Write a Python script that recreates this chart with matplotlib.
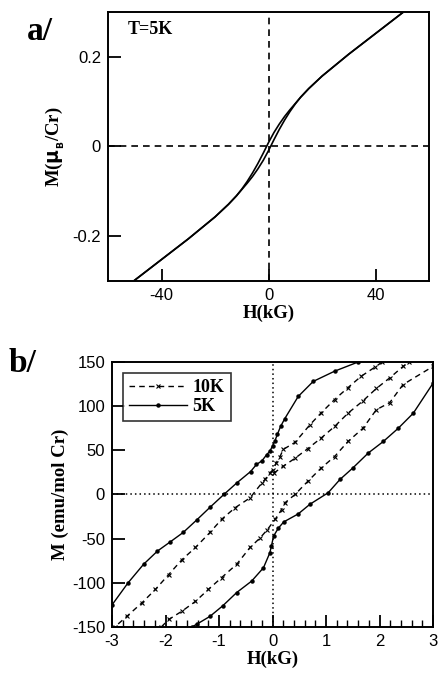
import matplotlib
matplotlib.use("Agg")
import matplotlib.pyplot as plt
from matplotlib.ticker import MultipleLocator

# ===== Panel a: T = 5K, large field loop =====
# descending branch (field from +50 to -50 kG)
h_a_down = [50, 40, 30, 20, 15, 12, 10, 8, 6, 4, 2, 0, -2, -4, -6, -8, -10,
            -12, -15, -20, -30, -40, -50]
m_a_down = [0.298, 0.252, 0.206, 0.157, 0.129, 0.110, 0.096, 0.082, 0.067,
            0.050, 0.031, 0.009, -0.015, -0.038, -0.059, -0.078, -0.095,
            -0.110, -0.129, -0.157, -0.206, -0.252, -0.298]
# ascending branch (field from -50 to +50 kG)
h_a_up = [-50, -40, -30, -20, -15, -12, -10, -8, -6, -4, -2, 0, 2, 4, 6, 8,
          10, 12, 15, 20, 30, 40, 50]
m_a_up = [-0.298, -0.252, -0.206, -0.157, -0.129, -0.110, -0.096, -0.082,
          -0.067, -0.050, -0.031, -0.009, 0.015, 0.038, 0.059, 0.078, 0.095,
          0.110, 0.129, 0.157, 0.206, 0.252, 0.298]

# ===== Panel b: low field loops =====
h_5k_down = [1.60, 1.16, 0.76, 0.48, 0.23, 0.15, 0.09, 0.04, 0.0, -0.05, -0.11,
             -0.20, -0.30, -0.41, -0.67, -0.91, -1.16, -1.42, -1.67, -1.92,
             -2.15, -2.41, -2.70, -3.0]
m_5k_down = [150, 139.6, 128, 111, 86, 77, 68, 60, 55, 49, 45,
             38, 34, 26, 13, 0, -14, -29, -43, -54,
             -64, -79, -100, -125]
h_5k_up = [-1.51, -1.42, -1.17, -0.93, -0.67, -0.39, -0.17, -0.05, -0.02, 0.02,
           0.11, 0.21, 0.48, 0.70, 1.04, 1.26, 1.50, 1.79, 2.07, 2.35, 2.63, 3.0]
m_5k_up = [-150, -147, -138, -126, -111, -98, -83, -66, -58, -47,
           -38, -31, -22, -11, 2, 17, 30, 47, 60, 75, 92, 126]

h_10k_down = [2.05, 1.91, 1.66, 1.41, 1.16, 0.91, 0.70, 0.42, 0.20, 0.14, 0.07,
              0.01, -0.05, -0.14, -0.20, -0.42, -0.70, -0.95, -1.17, -1.44,
              -1.69, -1.94, -2.19, -2.44, -2.72, -2.95]
m_10k_down = [150, 144, 134, 121, 107.5, 92.5, 79, 59, 51, 43, 36,
              28, 24.5, 17, 13, -3.8, -15, -28, -43, -60,
              -73.6, -90.6, -107.5, -122.6, -137.8, -150]
h_10k_up = [-2.08, -1.94, -1.69, -1.44, -1.20, -0.95, -0.67, -0.42, -0.23, -0.10,
            0.05, 0.17, 0.23, 0.42, 0.66, 0.91, 1.16, 1.41, 1.69, 1.94, 2.19,
            2.44, 3.0]
m_10k_up = [-150, -141.5, -132, -121, -107.5, -94, -79, -60, -49, -40,
            -28, -17, -9.5, 0, 15, 30, 43, 60, 75, 96, 104, 124.5, 145]
h_10k_init = [0.02, 0.20, 0.42, 0.66, 0.91, 1.16, 1.41, 1.69, 1.94, 2.19, 2.44, 2.55]
m_10k_init = [24, 32, 41, 52, 64, 77, 92, 106, 120, 132, 145, 150]

serif = "Liberation Serif"
sans = "Liberation Sans"
plt.rcParams["font.family"] = sans
plt.rcParams["axes.linewidth"] = 1.4
plt.rcParams["axes.unicode_minus"] = False

fig = plt.figure(figsize=(4.41, 6.76), dpi=100)

# ---------- panel a ----------
ax1 = fig.add_axes([0.245, 0.5843, 0.728, 0.398])
ax1.plot(h_a_down, m_a_down, color="black", lw=1.2)
ax1.plot(h_a_up, m_a_up, color="black", lw=1.2)
ax1.axhline(0, color="black", ls=(0, (4, 3)), lw=1.2)
ax1.axvline(0, color="black", ls=(0, (4, 3)), lw=1.2)
ax1.set_xlim(-60, 60)
ax1.set_ylim(-0.3, 0.3)
ax1.set_xticks([-40, 0, 40])
ax1.set_yticks([-0.2, 0, 0.2])
ax1.set_yticklabels(["-0.2", "0", "0.2"])
ax1.set_xticklabels(["-40", "0", "40"])
ax1.tick_params(direction="in", length=9, width=1.3, labelsize=12, pad=5)
ax1.set_xlabel("H(kG)", family=serif, weight="bold", fontsize=13.5, labelpad=1)
ax1.set_ylabel(r"M($\mathbf{\mu_{_B}}$/Cr)", family=serif, weight="bold",
               fontsize=13.5, labelpad=4)
ax1.text(0.06, 0.965, "T=5K", transform=ax1.transAxes, family=serif,
         weight="bold", fontsize=13, va="top", ha="left")
fig.text(0.06, 0.976, "a/", family=serif, weight="bold", fontsize=24, va="top")

# ---------- panel b ----------
ax2 = fig.add_axes([0.254, 0.0725, 0.728, 0.392])
ax2.plot(h_10k_down, m_10k_down, color="black", lw=1.0, ls=(0, (4, 3)),
         marker="x", ms=2.5, mew=0.8, label="10K")
ax2.plot(h_10k_up, m_10k_up, color="black", lw=1.0, ls=(0, (4, 3)),
         marker="x", ms=2.5, mew=0.8)
ax2.plot(h_10k_init, m_10k_init, color="black", lw=1.0, ls=(0, (4, 3)),
         marker="x", ms=2.5, mew=0.8)
ax2.plot(h_5k_down, m_5k_down, color="black", lw=1.0, marker="o", ms=2.2,
         label="5K")
ax2.plot(h_5k_up, m_5k_up, color="black", lw=1.0, marker="o", ms=2.2)
ax2.axhline(0, color="black", ls=(0, (1, 2)), lw=1.1)
ax2.axvline(0, color="black", ls=(0, (1, 2)), lw=1.1)
ax2.set_xlim(-3, 3)
ax2.set_ylim(-150, 150)
ax2.xaxis.set_major_locator(MultipleLocator(1))
ax2.xaxis.set_minor_locator(MultipleLocator(0.2))
ax2.yaxis.set_major_locator(MultipleLocator(50))
ax2.tick_params(which="major", direction="in", length=9, width=1.3,
                labelsize=12, pad=5)
ax2.tick_params(which="minor", direction="in", length=5, width=1.0)
ax2.set_xlabel("H(kG)", family=serif, weight="bold", fontsize=13.5, labelpad=1)
ax2.set_ylabel("M (emu/mol Cr)", family=serif, weight="bold", fontsize=13.5,
               labelpad=2)
leg = ax2.legend(loc="upper left", frameon=True, fancybox=False,
                 prop={"family": serif, "weight": "bold", "size": 13},
                 handlelength=3.2, handletextpad=0.3, borderpad=0.35,
                 labelspacing=0.1, borderaxespad=0.6)
leg.get_frame().set_edgecolor("black")
leg.get_frame().set_linewidth(1.2)
fig.text(0.02, 0.485, "b/", family=serif, weight="bold", fontsize=24, va="top")

fig.savefig("out.png", dpi=100)
